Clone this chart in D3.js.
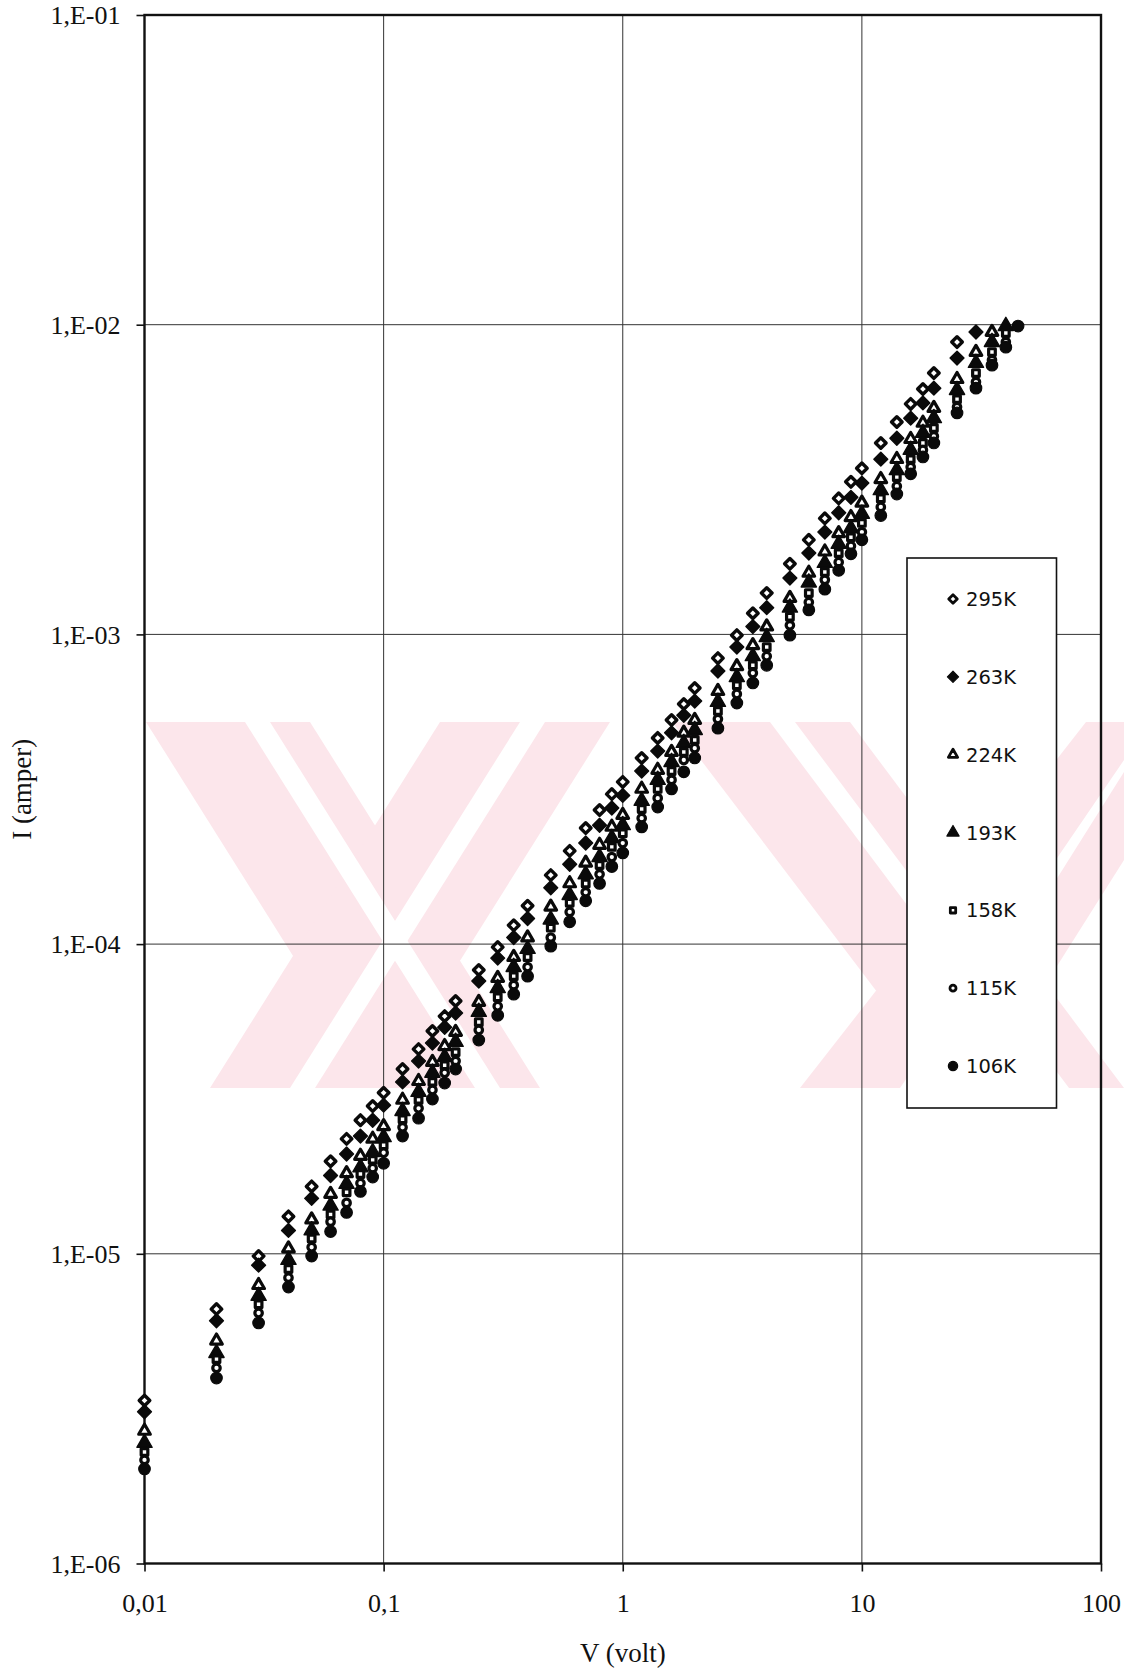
<!DOCTYPE html>
<html>
<head>
<meta charset="utf-8">
<script src="https://cdnjs.cloudflare.com/ajax/libs/d3/7.8.5/d3.min.js"></script>
<style>
  html, body { margin: 0; padding: 0; background: #fff; }
  svg { display: block; }
</style>
</head>
<body>
<svg id="chart" width="1128" height="1676"></svg>
<script>
// Applied voltage (V)
const voltage = [0.01,0.02,0.03,0.04,0.05,0.06,0.07,0.08,0.09,
  0.1,0.12,0.14,0.16,0.18,0.2,
  0.25,0.3,0.35,0.4,0.5,
  0.6,0.7,0.8,0.9,1,
  1.2,1.4,1.6,1.8,2,
  2.5,3,3.5,4,5,
  6,7,8,9,10,
  12,14,16,18,20,
  25,30,35,40,45];

// Measured current (A) for each temperature; null = not measured
const i295 = [3.36e-6,6.63e-6,9.83e-6,1.32e-5,1.65e-5,1.99e-5,2.35e-5,2.70e-5,3.00e-5,
  3.31e-5,3.95e-5,4.58e-5,5.24e-5,5.85e-5,6.55e-5,
  8.25e-5,9.78e-5,1.15e-4,1.33e-4,1.67e-4,
  2.00e-4,2.37e-4,2.71e-4,3.05e-4,3.34e-4,
  3.99e-4,4.63e-4,5.29e-4,5.96e-4,6.71e-4,
  8.38e-4,9.94e-4,1.17e-3,1.36e-3,1.69e-3,
  2.02e-3,2.37e-3,2.75e-3,3.11e-3,3.44e-3,
  4.15e-3,4.85e-3,5.55e-3,6.20e-3,6.98e-3,
  8.79e-3,null,null,null,null];
const i263 = [3.09e-6,6.08e-6,9.19e-6,1.19e-5,1.51e-5,1.79e-5,2.10e-5,2.40e-5,2.70e-5,
  3.02e-5,3.59e-5,4.19e-5,4.79e-5,5.39e-5,5.99e-5,
  7.60e-5,9.01e-5,1.05e-4,1.21e-4,1.52e-4,
  1.81e-4,2.12e-4,2.42e-4,2.75e-4,3.02e-4,
  3.62e-4,4.20e-4,4.81e-4,5.48e-4,6.09e-4,
  7.62e-4,9.10e-4,1.06e-3,1.22e-3,1.52e-3,
  1.83e-3,2.14e-3,2.47e-3,2.77e-3,3.08e-3,
  3.68e-3,4.30e-3,4.99e-3,5.59e-3,6.24e-3,
  7.80e-3,9.47e-3,null,null,null];
const i224 = [2.68e-6,5.24e-6,7.92e-6,1.04e-5,1.29e-5,1.56e-5,1.82e-5,2.07e-5,2.35e-5,
  2.58e-5,3.14e-5,3.61e-5,4.16e-5,4.68e-5,5.20e-5,
  6.50e-5,7.77e-5,9.08e-5,1.05e-4,1.32e-4,
  1.57e-4,1.83e-4,2.09e-4,2.39e-4,2.61e-4,
  3.17e-4,3.65e-4,4.17e-4,4.81e-4,5.29e-4,
  6.56e-4,7.89e-4,9.22e-4,1.06e-3,1.31e-3,
  1.58e-3,1.85e-3,2.12e-3,2.39e-3,2.66e-3,
  3.17e-3,3.68e-3,4.27e-3,4.82e-3,5.38e-3,
  6.67e-3,8.16e-3,9.47e-3,null,null];
const i193 = [2.45e-6,4.78e-6,7.31e-6,9.55e-6,1.19e-5,1.43e-5,1.68e-5,1.90e-5,2.13e-5,
  2.38e-5,2.89e-5,3.33e-5,3.84e-5,4.32e-5,4.83e-5,
  6.04e-5,7.21e-5,8.43e-5,9.64e-5,1.20e-4,
  1.44e-4,1.68e-4,1.91e-4,2.20e-4,2.42e-4,
  2.90e-4,3.39e-4,3.87e-4,4.46e-4,4.91e-4,
  6.05e-4,7.28e-4,8.50e-4,9.80e-4,1.22e-3,
  1.47e-3,1.70e-3,1.96e-3,2.20e-3,2.45e-3,
  2.92e-3,3.39e-3,3.94e-3,4.47e-3,4.99e-3,
  6.15e-3,7.52e-3,8.79e-3,9.90e-3,null];
const i158 = [2.29e-6,4.57e-6,6.87e-6,8.93e-6,1.12e-5,1.34e-5,1.58e-5,1.81e-5,2.01e-5,
  2.24e-5,2.72e-5,3.14e-5,3.59e-5,4.06e-5,4.48e-5,
  5.60e-5,6.74e-5,7.88e-5,9.08e-5,1.13e-4,
  1.36e-4,1.57e-4,1.80e-4,2.06e-4,2.28e-4,
  2.73e-4,3.17e-4,3.62e-4,4.17e-4,4.56e-4,
  5.66e-4,6.85e-4,7.95e-4,9.10e-4,1.14e-3,
  1.36e-3,1.59e-3,1.83e-3,2.06e-3,2.29e-3,
  2.75e-3,3.22e-3,3.68e-3,4.15e-3,4.64e-3,
  5.75e-3,6.98e-3,8.16e-3,9.40e-3,null];
const i115 = [2.16e-6,4.28e-6,6.44e-6,8.37e-6,1.05e-5,1.27e-5,1.46e-5,1.69e-5,1.89e-5,
  2.12e-5,2.56e-5,2.95e-5,3.38e-5,3.84e-5,4.19e-5,
  5.28e-5,6.30e-5,7.37e-5,8.43e-5,1.05e-4,
  1.27e-4,1.47e-4,1.68e-4,1.91e-4,2.12e-4,
  2.55e-4,2.96e-4,3.39e-4,3.93e-4,4.29e-4,
  5.33e-4,6.42e-4,7.50e-4,8.50e-4,1.07e-3,
  1.27e-3,1.50e-3,1.71e-3,1.93e-3,2.14e-3,
  2.58e-3,3.01e-3,3.47e-3,3.94e-3,4.36e-3,
  5.42e-3,6.53e-3,7.69e-3,8.79e-3,null];
const i106 = [2.02e-6,3.97e-6,5.98e-6,7.81e-6,9.83e-6,1.18e-5,1.36e-5,1.59e-5,1.77e-5,
  1.96e-5,2.40e-5,2.74e-5,3.16e-5,3.56e-5,3.95e-5,
  4.90e-5,5.89e-5,6.89e-5,7.88e-5,9.85e-5,
  1.18e-4,1.38e-4,1.57e-4,1.78e-4,1.97e-4,
  2.39e-4,2.77e-4,3.17e-4,3.60e-4,3.99e-4,
  4.98e-4,6.00e-4,6.97e-4,7.95e-4,9.94e-4,
  1.20e-3,1.40e-3,1.61e-3,1.82e-3,2.02e-3,
  2.42e-3,2.84e-3,3.30e-3,3.74e-3,4.15e-3,
  5.19e-3,6.24e-3,7.40e-3,8.46e-3,9.90e-3];

const seriesNames = ["295K","263K","224K","193K","158K","115K","106K"];
const seriesValues = [i295, i263, i224, i193, i158, i115, i106];

const xTicks = [0.01, 0.1, 1, 10, 100];
const xTickLabels = ["0,01", "0,1", "1", "10", "100"];
const yTicks = [1e-6, 1e-5, 1e-4, 1e-3, 1e-2, 1e-1];
const yTickLabels = ["1,E-06", "1,E-05", "1,E-04", "1,E-03", "1,E-02", "1,E-01"];

const xTitle = "V (volt)";
const yTitle = "I (amper)";

// ---- layout ----
const svg = d3.select("#chart");
const plot = { left: 144.5, right: 1101, top: 15, bottom: 1563.5 };

const x = d3.scaleLog().domain([0.01, 100]).range([plot.left, plot.right]);
const y = d3.scaleLog().domain([1e-6, 1e-1]).range([plot.bottom, plot.top]);

// Regular (45°) diamond symbol
const diamond45 = {
  draw(ctx, size) {
    const r = Math.sqrt(size / 2);
    ctx.moveTo(0, -r); ctx.lineTo(r, 0); ctx.lineTo(0, r); ctx.lineTo(-r, 0); ctx.closePath();
  }
};

// marker style per series: symbol type, open/filled, size, stroke
const markerStyle = [
  { type: diamond45,         open: true,  size: 56, sw: 3.4 },
  { type: diamond45,         open: false, size: 96, sw: 1.4 },
  { type: d3.symbolTriangle, open: true,  size: 58, sw: 3.2 },
  { type: d3.symbolTriangle, open: false, size: 100, sw: 1.4 },
  { type: d3.symbolSquare,   open: true,  size: 44, sw: 3.2 },
  { type: d3.symbolCircle,   open: true,  size: 44, sw: 3.2 },
  { type: d3.symbolCircle,   open: false, size: 105, sw: 1.2 }
];

// ---- background tint (diagonal striped emblem) ----
const wm = svg.append("g").attr("class", "tint");
const pink = "#fce6eb";
wm.append("defs").append("clipPath").attr("id", "band")
  .append("rect").attr("x", 146).attr("y", 722).attr("width", 978).attr("height", 366);
const wg = wm.append("g").attr("clip-path", "url(#band)");
const strokes = [
  // left cross
  [[146,722],[310,722],[540,1088],[376,1088]],
  [[210,1088],[380,1088],[610,722],[440,722]],
  // right cross
  [[672,722],[850,722],[1124,1088],[950,1088]],
  [[800,1088],[980,1088],[1124,860],[1124,722],[1086,722]]
];
strokes.forEach(p => wg.append("polygon")
  .attr("points", p.map(q => q.join(",")).join(" ")).attr("fill", pink));
// white inner lines giving the outlined look
const inner = [
  [[245,722],[270,722],[500,1088],[475,1088]],
  [[290,1088],[315,1088],[545,722],[520,722]],
  [[770,722],[795,722],[1069,1088],[1044,1088]],
  [[900,1088],[925,1088],[1124,772],[1124,760]]
];
inner.forEach(p => wg.append("polygon")
  .attr("points", p.map(q => q.join(",")).join(" ")).attr("fill", "#fff"));

// ---- grid ----
const grid = svg.append("g").attr("class", "grid");
grid.selectAll("line.v").data(xTicks).join("line")
  .attr("x1", d => x(d)).attr("x2", d => x(d))
  .attr("y1", plot.top).attr("y2", plot.bottom)
  .attr("stroke", "#333").attr("stroke-width", 1);
grid.selectAll("line.h").data(yTicks).join("line")
  .attr("x1", plot.left).attr("x2", plot.right)
  .attr("y1", d => y(d)).attr("y2", d => y(d))
  .attr("stroke", "#333").attr("stroke-width", 1);

// ---- axes ----
const xAxis = d3.axisBottom(x).tickValues(xTicks)
  .tickFormat((d, i) => xTickLabels[i]).tickSize(8).tickPadding(22);
const yAxis = d3.axisLeft(y).tickValues(yTicks)
  .tickFormat((d, i) => yTickLabels[i]).tickSize(8).tickPadding(16);

const gx = svg.append("g").attr("transform", `translate(0,${plot.bottom})`).call(xAxis);
const gy = svg.append("g").attr("transform", `translate(${plot.left},0)`).call(yAxis);
[gx, gy].forEach(g => {
  g.select(".domain").remove();
  g.selectAll(".tick line").attr("stroke", "#111").attr("stroke-width", 1.6);
  g.selectAll(".tick text")
    .attr("fill", "#111")
    .style("font-family", "'Liberation Serif', 'Times New Roman', serif")
    .style("font-size", "26px");
});
gy.selectAll(".tick text").attr("dy", "0.34em");

// plot frame
svg.append("rect")
  .attr("x", plot.left).attr("y", plot.top)
  .attr("width", plot.right - plot.left).attr("height", plot.bottom - plot.top)
  .attr("fill", "none").attr("stroke", "#111").attr("stroke-width", 2.4);

// ---- data markers ----
const symbolGen = d3.symbol();
seriesValues.forEach((vals, si) => {
  const st = markerStyle[si];
  const pts = voltage.map((v, i) => ({ v, c: vals[i] })).filter(d => d.c != null);
  svg.append("g").attr("class", "series s" + si)
    .selectAll("path").data(pts).join("path")
    .attr("transform", d => `translate(${x(d.v)},${y(d.c)})`)
    .attr("d", symbolGen.type(st.type).size(st.size)())
    .attr("fill", st.open ? "#fff" : "#0a0a0a")
    .attr("stroke", "#0a0a0a")
    .attr("stroke-width", st.sw)
    .attr("stroke-linejoin", "round");
});

// ---- legend ----
const legend = svg.append("g").attr("class", "legend");
const lg = { x: 907, y: 558, w: 149.5, h: 550 };
legend.append("rect")
  .attr("x", lg.x).attr("y", lg.y).attr("width", lg.w).attr("height", lg.h)
  .attr("fill", "#fff").attr("stroke", "#111").attr("stroke-width", 1.6);
const legendY = d3.scalePoint().domain(seriesNames).range([599, 1066]);
seriesNames.forEach((name, si) => {
  const st = markerStyle[si];
  const row = legend.append("g").attr("transform", `translate(953,${legendY(name)})`);
  row.append("path")
    .attr("d", symbolGen.type(st.type).size(st.size * 0.65)())
    .attr("fill", st.open ? "#fff" : "#0a0a0a")
    .attr("stroke", "#0a0a0a").attr("stroke-width", st.open ? 2.8 : 1.2)
    .attr("stroke-linejoin", "round");
  row.append("text")
    .attr("x", 13).attr("dy", "0.36em")
    .attr("fill", "#111")
    .style("font-family", "'DejaVu Sans', Verdana, sans-serif")
    .style("font-size", "19.5px")
    .text(name);
});

// ---- axis titles ----
svg.append("text")
  .attr("x", (plot.left + plot.right) / 2).attr("y", 1662)
  .attr("text-anchor", "middle").attr("fill", "#111")
  .style("font-family", "'Liberation Serif', 'Times New Roman', serif")
  .style("font-size", "27px")
  .text(xTitle);
svg.append("text")
  .attr("transform", `translate(31,${(plot.top + plot.bottom) / 2}) rotate(-90)`)
  .attr("text-anchor", "middle").attr("fill", "#111")
  .style("font-family", "'Liberation Serif', 'Times New Roman', serif")
  .style("font-size", "27px")
  .text(yTitle);
</script>
</body>
</html>
